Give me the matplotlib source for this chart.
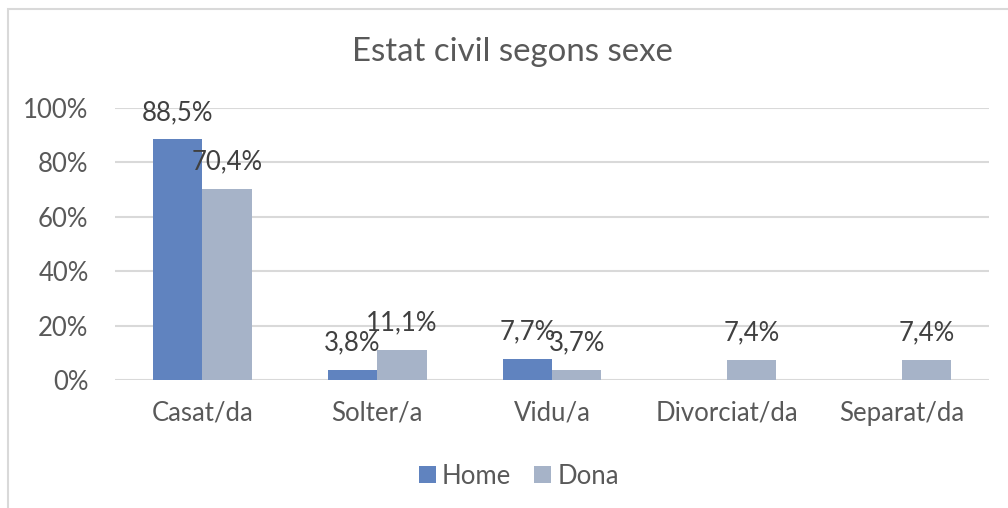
import numpy as np
import matplotlib
matplotlib.use('Agg')
import matplotlib.pyplot as plt
from matplotlib.patches import Rectangle

plt.rcParams['font.family'] = ['Lato', 'DejaVu Sans']

categories = ['Casat/da', 'Solter/a', 'Vidu/a', 'Divorciat/da', 'Separat/da']
home = [88.5, 3.8, 7.7, np.nan, np.nan]
dona = [70.4, 11.1, 3.7, 7.4, 7.4]
yticks = [0, 20, 40, 60, 80, 100]

text_color = '#595959'
home_color = '#6083BF'
dona_color = '#A6B3C8'
grid_color = '#D9D9D9'

fig = plt.figure(figsize=(10.08, 5.08), dpi=100)
ax = fig.add_axes([115/1008, 1-380/508, (989-115)/1008, (380-108)/508])

# chart frame (Excel style)
fig.patches.append(Rectangle((7.5/1008, -0.1), 1.2, 1 - 9.5/508 + 0.1,
                             transform=fig.transFigure, fill=False,
                             ec=grid_color, lw=1.5))

x = np.arange(len(categories))
w = 0.283
b1 = ax.bar(x - w/2, home, w, color=home_color, label='Home', zorder=3)
b2 = ax.bar(x + w/2, dona, w, color=dona_color, label='Dona', zorder=3)

for bars, vals in ((b1, home), (b2, dona)):
    for rect, v in zip(bars, vals):
        if np.isnan(v):
            continue
        ax.annotate(('%.1f%%' % v).replace('.', ','),
                    (rect.get_x() + rect.get_width()/2, v),
                    xytext=(0, 14), textcoords='offset points',
                    ha='center', va='baseline', fontsize=18.5,
                    color='#404040', zorder=4)

ax.set_xlim(-0.5, len(categories) - 0.5)
ax.set_ylim(0, 100)
ax.set_yticks(yticks)
ax.set_yticklabels(['%d%%' % t for t in yticks])
ax.set_xticks(x)
ax.set_xticklabels(categories)
ax.tick_params(axis='both', length=0, labelsize=18.5, colors=text_color)
ax.tick_params(axis='y', pad=19)
ax.tick_params(axis='x', pad=15)
ax.grid(axis='y', color=grid_color, lw=1.5, zorder=0)
for s in ax.spines.values():
    s.set_visible(False)

fig.text(512/1008, 1-52/508, 'Estat civil segons sexe', ha='center', va='center',
         fontsize=23.8, color=text_color)

leg = fig.legend(handles=[b1, b2], loc='center', bbox_to_anchor=(519/1008, 1-476/508),
                 ncol=2, frameon=False, fontsize=18.5, handlelength=0.65,
                 handleheight=0.65, handletextpad=0.25, columnspacing=0.9)
for t in leg.get_texts():
    t.set_color(text_color)

fig.savefig('out.png', dpi=100)
